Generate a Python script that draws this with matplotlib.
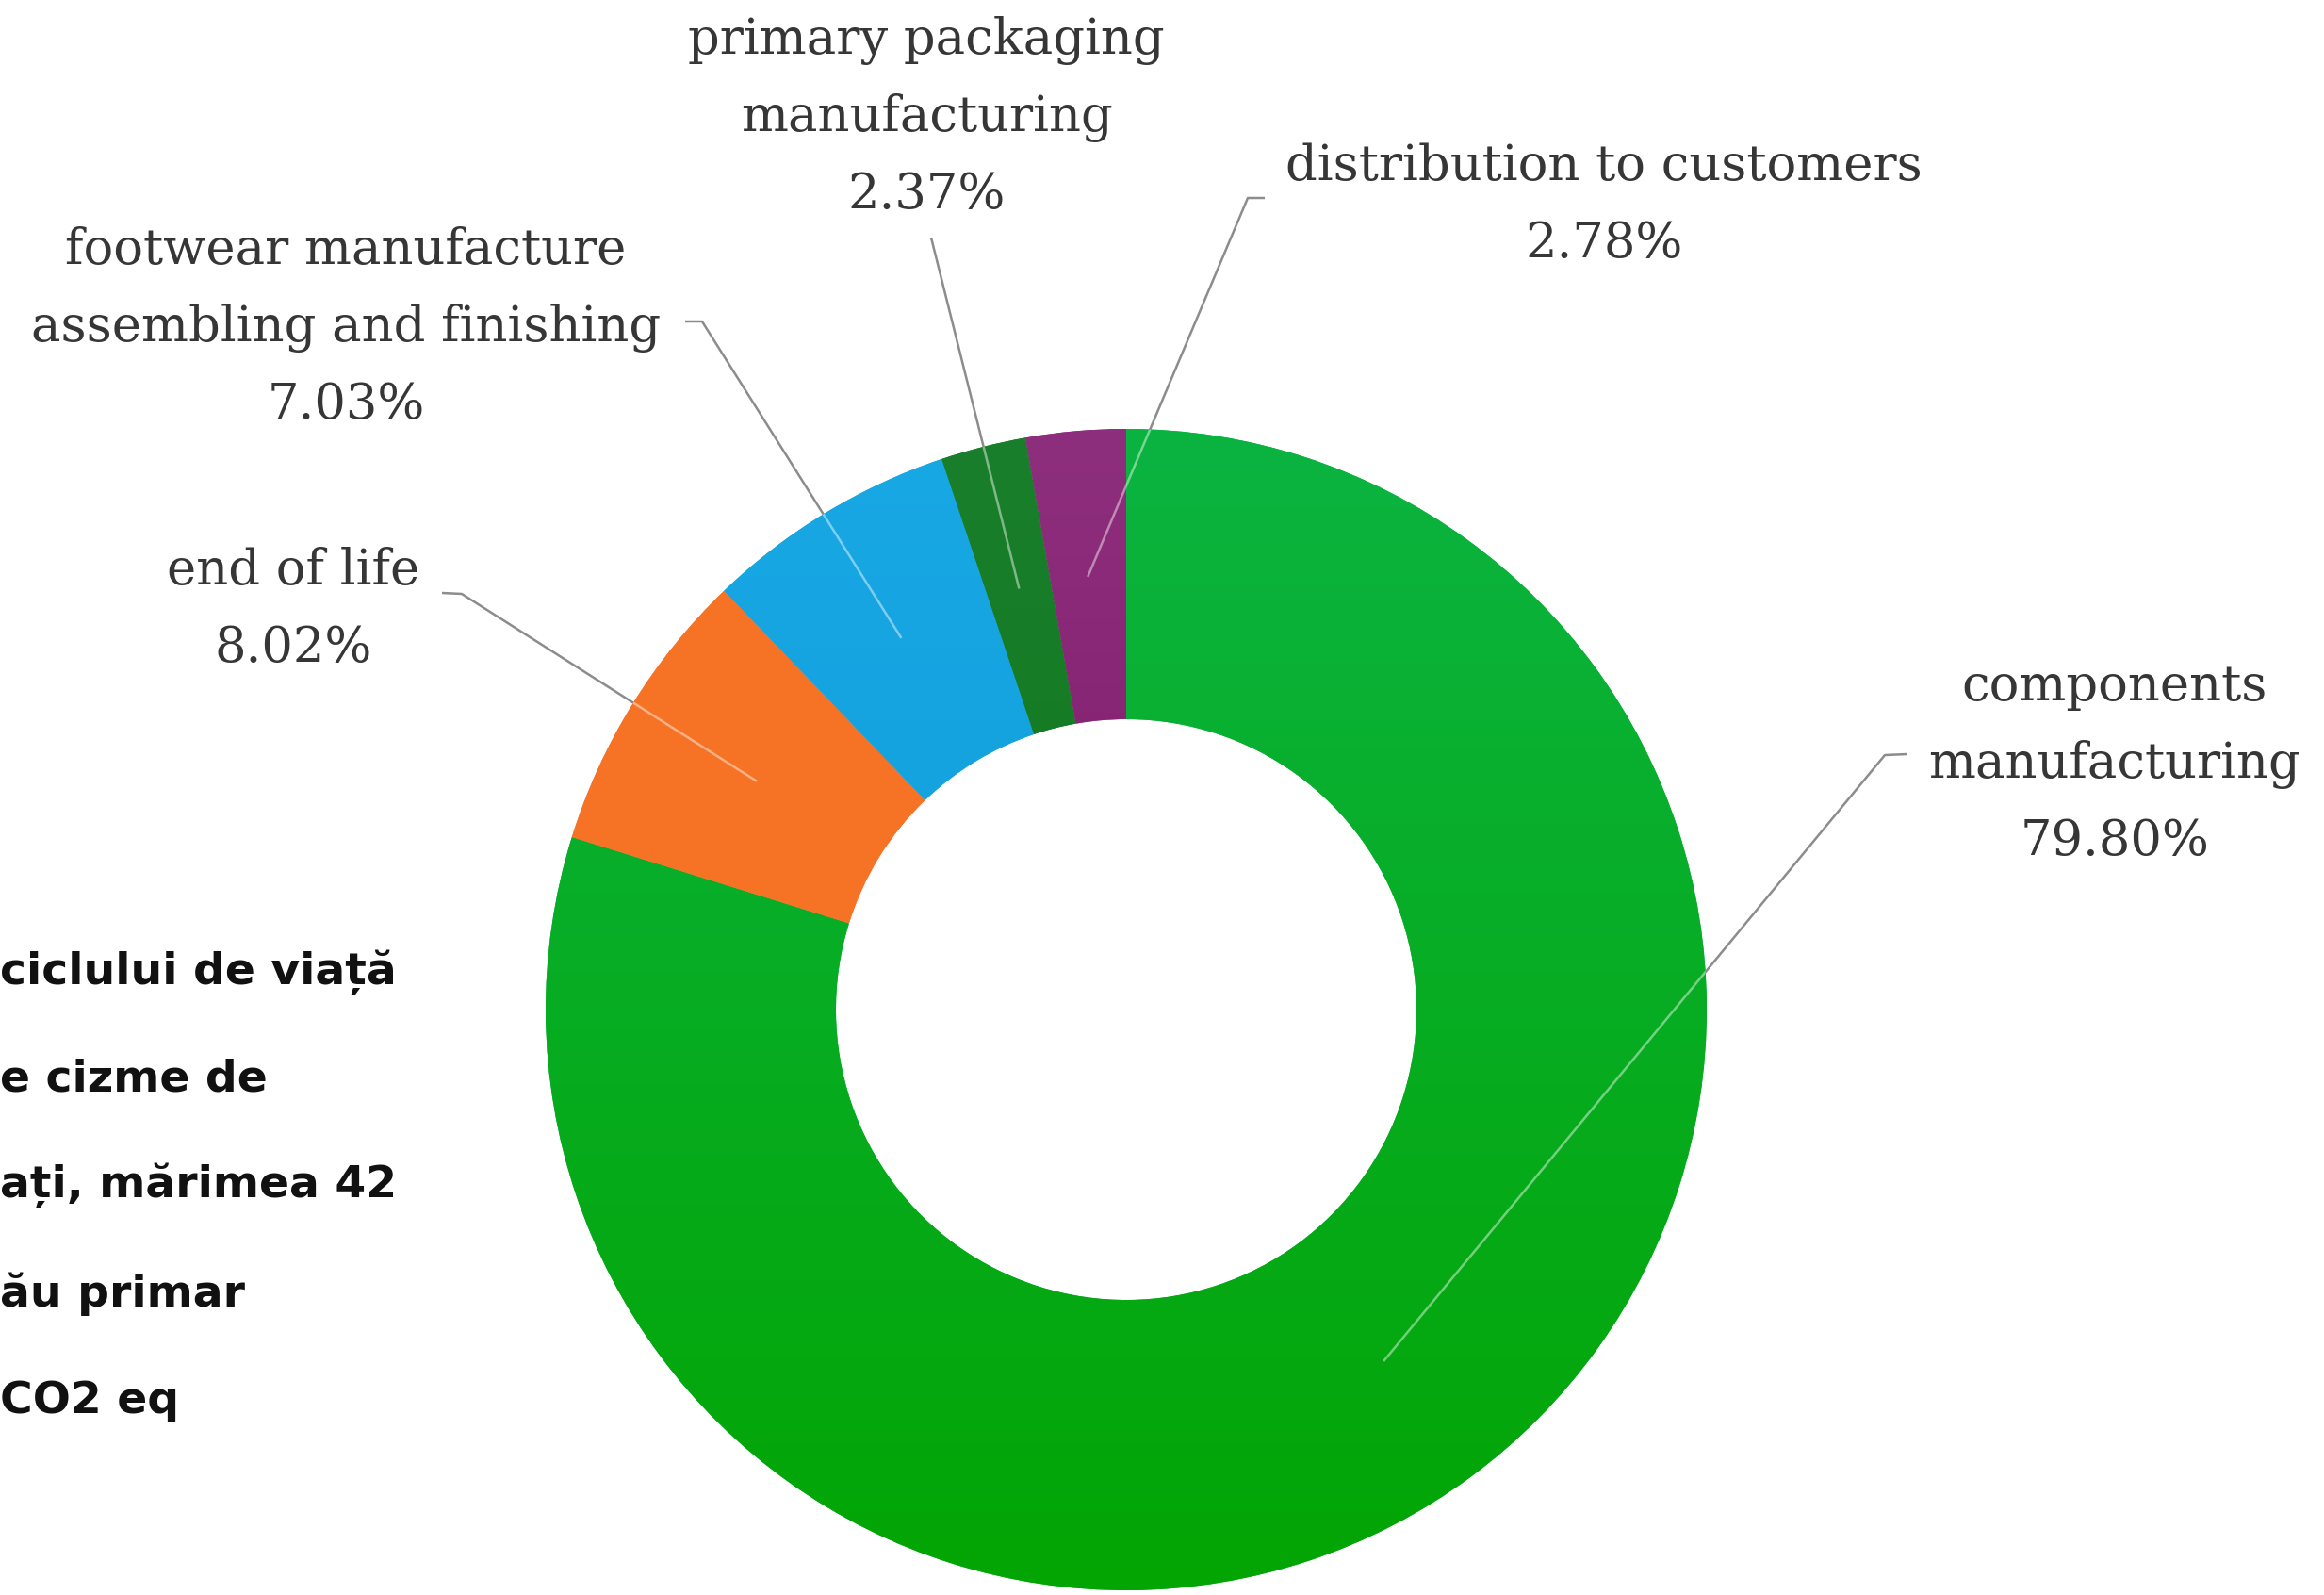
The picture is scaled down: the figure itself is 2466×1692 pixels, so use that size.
import numpy as np
import matplotlib
matplotlib.use("Agg")
import matplotlib.pyplot as plt
from matplotlib.colors import to_rgb

W, H = 2466, 1692
DPI = 100

# Life-cycle stages (clockwise from 12 o'clock) and their share of the footprint
stages = [
    "components\nmanufacturing",
    "end of life",
    "footwear manufacture\nassembling and finishing",
    "primary packaging\nmanufacturing",
    "distribution to customers",
]
shares = [79.80, 8.02, 7.03, 2.37, 2.78]
top_colors = ["#0BB441", "#F77428", "#18A8E4", "#1A7F2C", "#8E2F7D"]
bottom_colors = ["#03A503", "#F5701F", "#0E98D6", "#0A7212", "#720A5C"]

# Label anchors: centre x and first baseline y, in pixels from the top-left corner
label_x = [2244, 311, 367, 983, 1702]
label_y0 = [743, 620, 280, 57, 191]
LINE_STEP = 82

# Leader line start points (pixels from top-left), incl. the short elbow tick
leader_pts = [
    [(2024, 800), (2000, 801)],
    [(469, 629), (490, 630)],
    [(727, 341), (745, 341)],
    [(988, 252)],
    [(1342, 210), (1324, 210)],
]

# Side caption lines (left margin)
side_lines = ["ciclului de viață", "e cizme de", "ați, mărimea 42", "ău primar", "CO2 eq"]
side_x = [0, 0, 0, 0, 0]
side_base = [1044, 1157, 1270, 1386, 1499]

# Donut geometry (pixels)
CX, CY_TOP = 1195, 1071
R_OUT, R_IN = 616, 308
CY = H - CY_TOP

fig = plt.figure(figsize=(W / DPI, H / DPI), dpi=DPI)
fig.patch.set_facecolor("white")
ax = fig.add_axes([0, 0, 1, 1])

wedges, _ = ax.pie(
    shares,
    colors=top_colors,
    startangle=90,
    counterclock=False,
    radius=R_OUT,
    center=(CX, CY),
    wedgeprops=dict(width=R_OUT - R_IN, linewidth=0, zorder=2),
)

# Soft vertical shading inside each slice
for w, c_top, c_bot in zip(wedges, top_colors, bottom_colors):
    t = np.linspace(0, 1, 256)[:, None, None]
    grad = (1 - t) * np.array(to_rgb(c_top)) + t * np.array(to_rgb(c_bot))
    grad = np.repeat(grad, 2, axis=1)
    im = ax.imshow(
        grad,
        extent=(CX - R_OUT, CX + R_OUT, CY - R_OUT, CY + R_OUT),
        origin="upper",
        aspect="auto",
        interpolation="bilinear",
        zorder=3,
    )
    im.set_clip_path(w)

# Labels and leader lines
for i, w in enumerate(wedges):
    lines = stages[i].split("\n") + [f"{shares[i]:.2f}%"]
    for j, line in enumerate(lines):
        ax.text(
            label_x[i], H - (label_y0[i] + j * LINE_STEP), line,
            ha="center", va="baseline", fontsize=38,
            family="DejaVu Serif", color="#363636", zorder=5,
        )
    mid = np.deg2rad((w.theta1 + w.theta2) / 2)
    r_mid = (R_OUT + R_IN) / 2
    end = (CX + r_mid * np.cos(mid), CY + r_mid * np.sin(mid))
    pts = [(x, H - y) for x, y in leader_pts[i]] + [end]
    xs, ys = zip(*pts)
    ax.plot(xs, ys, color="#8c8c8c", lw=1.8, zorder=1, solid_capstyle="butt")
    # lighter trace of the leader where it runs over the ring
    for ww in wedges:
        ln, = ax.plot(xs[-2:], ys[-2:], color="white", alpha=0.45, lw=1.8, zorder=4)
        ln.set_clip_path(ww)

for txt, x, yb in zip(side_lines, side_x, side_base):
    ax.text(x, H - yb, txt, ha="left", va="baseline", fontsize=34,
            family="DejaVu Sans", fontweight="bold", color="#111111", zorder=5)

ax.set_xlim(0, W)
ax.set_ylim(0, H)
ax.set_aspect("equal")
ax.axis("off")

fig.savefig("out.png", dpi=DPI, facecolor="white")
